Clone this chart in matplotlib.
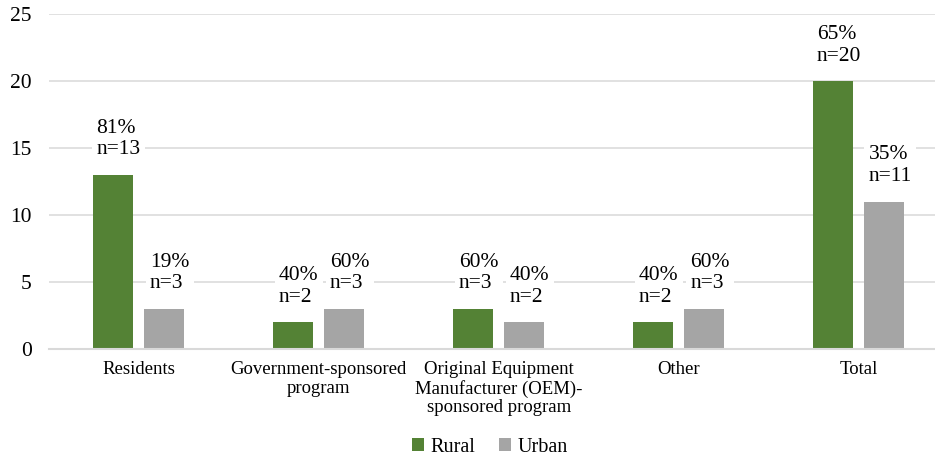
import numpy as np
import matplotlib.pyplot as plt

plt.rcParams['font.family'] = ['Liberation Serif', 'DejaVu Serif']

categories = ["Residents", "Government-sponsored\nprogram",
              "Original Equipment\nManufacturer (OEM)-\nsponsored program",
              "Other", "Total"]
rural_n = [13, 2, 3, 2, 20]
urban_n = [3, 3, 2, 3, 11]
rural_pct = [81, 40, 60, 40, 65]
urban_pct = [19, 60, 40, 60, 35]

green = "#548235"
grey = "#A5A5A5"
grid_c = "#D9D9D9"

fig = plt.figure(figsize=(9.35, 4.61), dpi=100)
ax = fig.add_axes([0.0519, 0.243, 0.963, 0.7267])

x = np.arange(len(categories))
w = 0.222
off = 0.142
b1 = ax.bar(x - off, rural_n, w, color=green, label="Rural", zorder=2)
b2 = ax.bar(x + off, urban_n, w, color=grey, label="Urban", zorder=2)

# value labels: percent + count, white box hides the gridline behind
for bars, pcts, ns in [(b1, rural_pct, rural_n), (b2, urban_pct, urban_n)]:
    for b, p, n in zip(bars, pcts, ns):
        ax.annotate(f"{p}%\nn={n}", (b.get_x() + b.get_width() / 2, n),
                    xytext=(4, 11), textcoords="offset points",
                    ha="center", va="bottom", multialignment="left",
                    fontsize=15.5, linespacing=1.2, zorder=1.5,
                    bbox=dict(boxstyle="square,pad=0.2", fc="white", ec="none"))

ax.set_xlim(-0.5, len(categories) - 0.5)
ax.set_ylim(0, 25)
ax.set_yticks(range(0, 26, 5))
ax.yaxis.grid(True, color=grid_c, linewidth=1.1, zorder=0)
ax.set_axisbelow(True)
for s in ["top", "right", "left"]:
    ax.spines[s].set_visible(False)
ax.spines["bottom"].set_color(grid_c)
ax.spines["bottom"].set_linewidth(1.5)
ax.set_xticks(x)
ax.set_xticklabels(categories, fontsize=13.5, linespacing=1.1)
ax.tick_params(axis="x", length=0, pad=9)
ax.tick_params(axis="y", length=0, pad=12, labelsize=15.5)

fig.legend(handles=[b1, b2], loc="center", bbox_to_anchor=(0.524, 0.03),
           ncol=2, frameon=False, fontsize=14.5, handlelength=0.6,
           handleheight=0.6, handletextpad=0.3, columnspacing=1.2)

fig.savefig("out.png", dpi=100)
